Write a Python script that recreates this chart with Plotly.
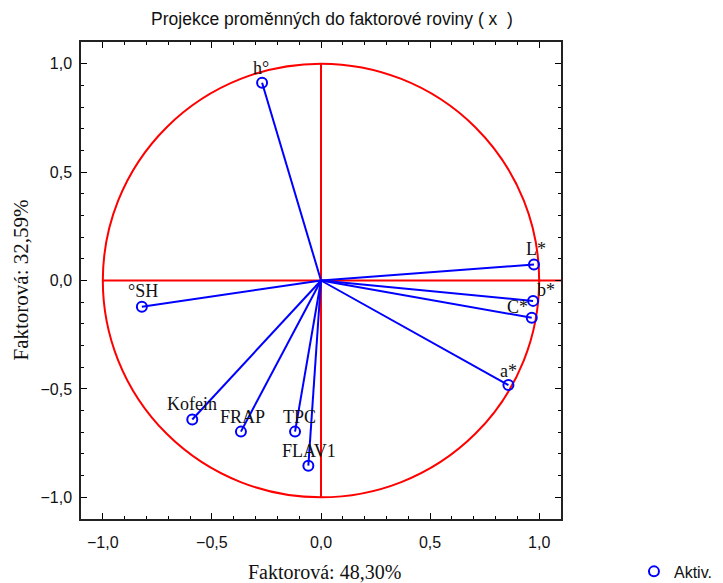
import plotly.graph_objects as go

# Data: factor loadings
variables = ["h°", "L*", "b*", "C*", "a*", "°SH", "Kofein", "FRAP", "TPC", "FLAV1"]
factor1 = [-0.27, 0.976, 0.972, 0.966, 0.859, -0.821, -0.590, -0.367, -0.119, -0.058]
factor2 = [0.912, 0.074, -0.094, -0.172, -0.482, -0.121, -0.641, -0.697, -0.697, -0.854]

title_text = "Projekce proměnných do faktorové roviny ( x  )"
xlabel = "Faktorová: 48,30%"
ylabel = "Faktorová: 32,59%"
legend_name = "Aktiv."
tick_vals = [-1.0, -0.5, 0.0, 0.5, 1.0]

# label offsets (pixels) - styling
label_shift = {
    "h°": (-1, 15), "L*": (2, 15), "b*": (13, 11), "C*": (-14, 11), "a*": (0, 14),
    "°SH": (1, 16), "Kofein": (0, 15), "FRAP": (2, 15), "TPC": (4, 15), "FLAV1": (1, 15),
}

BLUE = "#0000ff"
RED = "#ff0000"
W, H = 723, 583
ML, MR, MT, MB = 81, 162, 42, 64

fig = go.Figure()

# lines from origin to each point
for x, y in zip(factor1, factor2):
    fig.add_trace(go.Scatter(x=[0, x], y=[0, y], mode="lines",
                             line=dict(color=BLUE, width=2),
                             showlegend=False, hoverinfo="skip"))

fig.add_trace(go.Scatter(x=factor1, y=factor2, mode="markers", name=legend_name,
                         marker=dict(symbol="circle-open", size=10, color=BLUE,
                                     line=dict(width=2, color=BLUE)),
                         showlegend=True))

# unit circle and axes lines
fig.add_shape(type="circle", xref="x", yref="y", x0=-1, y0=-1, x1=1, y1=1,
              line=dict(color=RED, width=2), layer="below")
fig.add_shape(type="line", xref="x", yref="y", x0=-1, y0=0, x1=1.1, y1=0,
              line=dict(color=RED, width=2), layer="below")
fig.add_shape(type="line", xref="x", yref="y", x0=0, y0=-1, x1=0, y1=1,
              line=dict(color=RED, width=2), layer="below")

for name, x, y in zip(variables, factor1, factor2):
    dx, dy = label_shift[name]
    fig.add_annotation(x=x, y=y, text=name, showarrow=False,
                       xshift=dx, yshift=dy,
                       font=dict(family="Liberation Serif", size=18, color="#111111"))

# axis titles as annotations (paper coords)
pw, ph = W - ML - MR, H - MT - MB
fig.add_annotation(xref="paper", yref="paper", x=(324 - ML) / pw, y=-(572 - (H - MB)) / ph,
                   text=xlabel, showarrow=False, xanchor="center", yanchor="middle",
                   font=dict(family="Liberation Serif", size=20, color="#111111"))
fig.add_annotation(xref="paper", yref="paper", x=-(ML - 20) / pw, y=0.5,
                   text=ylabel, showarrow=False, textangle=-90,
                   xanchor="center", yanchor="middle",
                   font=dict(family="Liberation Serif", size=21, color="#111111"))

axis_common = dict(
    range=[-1.1, 1.1], tickvals=tick_vals, tickformat=".1f",
    ticks="inside", ticklen=6, tickwidth=1, tickcolor="black",
    showline=True, linecolor="#222222", linewidth=1.5, mirror="allticks",
    showgrid=False, zeroline=False, automargin=False,
    minor=dict(dtick=0.1, ticks="inside", ticklen=3, tickcolor="black", showgrid=False),
    tickfont=dict(family="Liberation Sans", size=16, color="#111111"),
)

fig.update_layout(
    width=W, height=H,
    margin=dict(l=ML, r=MR, t=MT, b=MB, autoexpand=False),
    paper_bgcolor="white", plot_bgcolor="white",
    separators=", ",
    title=dict(text=title_text, x=332 / W, xanchor="center",
               y=1 - 19 / H, yanchor="middle",
               font=dict(family="Liberation Sans", size=17.5, color="#111111")),
    xaxis=dict(**axis_common, ticklabelstandoff=8),
    yaxis=dict(**axis_common, ticklabelstandoff=4),
    showlegend=True,
    legend=dict(x=1.152, y=-0.11, xanchor="left", yanchor="middle",
                bgcolor="rgba(0,0,0,0)",
                font=dict(family="Liberation Sans", size=16, color="#111111")),
)

fig.write_html("out.html",
               config={"displayModeBar": False},
               post_script="document.body.style.margin='0';document.body.style.overflow='hidden';")
